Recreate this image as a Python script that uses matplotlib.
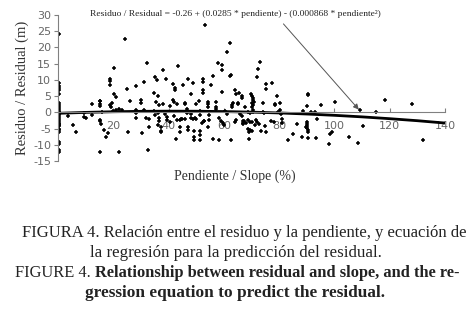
import matplotlib
matplotlib.use("Agg")
import matplotlib.pyplot as plt

plt.rcParams["axes.unicode_minus"] = False

# residual points at slope ~0
zero_y = [24.2, 8.9, 8.2, 7.6, 6.8, 5.8, 2.9, 2.2, 1.6, 1.0, 0.5, 0.0, -0.4, -0.9,
          -1.4, -2.0, -2.7, -3.2, -3.5, -3.9, -4.3, -5.0, -5.5, -6.1, -9.2, -9.7,
          -11.5, -12.2]
zero_x = [0.2, 0.3, 0.2, 0.3, 0.2, 0.2, 0.3, 0.2, 0.3, 0.2, 0.3, 0.2, 0.3, 0.2,
          0.3, 0.2, 0.3, 0.2, 0.3, 0.2, 0.3, 0.2, 0.3, 0.2, 0.3, 0.2, 0.3, 0.2]

slope = [3.5, 5.3, 6.4, 9.4, 10.1, 9.3, 12.2, 12.3, 15.1, 15.1, 15.1, 15.2, 15.1, 15.1,
         15.6, 15.8, 15.3, 16.5, 17.4, 18.2, 18.8, 18.8, 18.8, 18.8, 19.5, 19.2, 20, 21,
         22, 23, 20.1, 20.4, 21, 22.2, 24.4, 24.9, 25.3, 26.2, 28.2, 28.2, 28.2, 28.2,
         30.1, 30.1, 30.4, 31.1, 31, 32, 33, 32.1, 32.4, 33,
         35.1, 35.7, 38.1, 39.1, 34.9, 36.1, 35.4, 36.6, 34.8, 36, 35, 36.4, 36.4, 36,
         37.3, 37.3, 37.3, 38.7, 39.5, 39.5, 40.4, 38, 40.7, 41.5, 42.3, 42.3, 41.7, 42,
         43, 42, 43, 44, 44.5, 45, 46, 43.3, 42.6, 44, 44, 45.3, 46, 46, 46.5, 46.5,
         47.2, 47.2, 47.2, 48.1, 49, 48, 48, 48.8, 49.5, 50, 49.3, 49.3, 49.3, 50, 51,
         51.5, 51.5, 52.3, 52.3, 52.3, 52.3, 52.2, 52.8, 53, 51.4, 51.4, 51.4, 53.2,
         54.4, 54.4, 54.4, 54.8, 54.6, 54.2, 55.3, 56.2, 56.2, 57.2, 57.2, 57.2, 58,
         59.2, 59.2, 58.4, 59, 59.6, 60.2, 58.3, 59.5, 60.5, 61, 61.3, 62.2, 62.6, 62.3,
         63, 63, 63.3, 62.6, 64, 64.3, 64, 64.4, 65.6, 65.3, 65.3, 66, 66.4, 67, 67,
         66.5, 66.5,
         67.5, 68.8, 69.5, 70.5, 70, 70.2, 70.5, 70.7, 70.8, 70.2, 70.5, 70.2, 70.7,
         67.2, 67, 68, 68.9, 69.5, 70.2, 71.3, 71.6, 68.6, 69.5, 69, 70.3, 69.2, 72.1,
         72.5, 73.1, 73.3, 74.3, 74, 74.6, 75, 75.4, 72.6, 72, 75.3, 75.3, 77.3, 77.2,
         78, 78.5, 78.5, 79.3, 79.5, 80.3, 80.8, 80.3, 80.9, 80.9, 83.3, 85.1, 86.3,
         88.2, 88.8, 90, 90, 90.2, 90, 90.3, 90.3, 89.8, 90.6, 90.3, 90.6, 90.2, 91.5,
         93, 93.6, 93.3, 95, 98.4, 99.3, 98.2, 100.2, 109.3, 110.5, 105.3, 108.4,
         114.9, 118.3, 128.2, 132.2]
residual = [-1.1, -4.0, -6.2, -1.4, -1.6, -0.2, 2.7, -0.9, 3.5, 2.7, 1.9, 3.4, -2.3, -2.8,
            -3.5, 0.0, -12.2, -5.4, -7.6, -6.4, 10.4, 9.7, 8.3, 2.2, 2.8, 1.6, 0.4, 0.8,
            0.9, 0.8, 13.8, 5.5, 4.7, -12.2, 22.7, 7.3, -6.1, 3.5, 8.1, 0.6, -0.2, -1.9,
            3.9, 2.9, -6.4, 9.4, 0.6, -1.9, -2.1, 15.2, -11.7, -4.4,
            10.9, 9.9, 13.0, 10.4, 6.0, 4.9, 3.3, 2.3, 0.4, -0.2, -0.9, -1.8, -2.8, -3.8,
            -4.5, -5.6, -6.1, -0.6, -1.5, -2.5, -2.9, 2.5, 2.0, 3.8, 7.6, 6.8, 8.6, 3.3,
            2.5, -1.2, -2.4, -2.3, -2.2, -2.1, -2.0, 14.2, -8.1, -4.6, -6.1, 8.3, 3.0, 2.5,
            1.0, -0.2, 10.4, -4.4, -5.4, 5.6, 8.9, -0.4, -1.6, -2.2, -1.6, -2.0, -5.6,
            -7.6, -8.6, 2.5, 3.5, 0.4, -0.9, 10.2, 9.4, 6.8, 6.0, -3.4, -2.8, -2.6, -5.6,
            -7.1, -8.6, 26.8, 3.2, 2.7, 1.6, -0.9, -2.3, -4.4, 8.3, -8.1, 11.1, 3.3, 1.6,
            1.0, 15.2, 14.5, 13.0, -1.8, -2.6, -3.3, -3.9, -8.6, 6.3, 0.4, -0.6, 18.6,
            21.4, 11.6, 11.1, 1.6, 2.4, 2.9, -8.6, -2.9, -2.4, 6.8, 5.6, 6.0, 3.0, 2.5,
            -0.6, -1.1, -2.7, -3.5, 5.0, 4.3,
            1.6, 0.2, -0.2, 0.1, 5.8, 5.0, 4.3, 3.9, 3.2, 2.9, 2.2, 1.6, 0.6,
            -2.6, -3.4, -3.2, -2.5, -3.1, -2.9, -4.0, -2.5, -5.0, -5.5, -6.1, -5.8, -8.1,
            10.9, 13.5, 15.5, -5.8, 2.9, 0.2, -0.3, -4.2, -6.1, -3.5, -3.0, 8.6, 7.3, 9.0,
            -2.7, -3.0, 2.7, 2.2, 4.9, 0.1, 0.7, -0.6, 2.9, -2.2, -3.2, -8.6, -6.8, -3.7,
            -7.6, 0.3, -3.0, -3.6, -4.2, -4.8, -5.4, -6.1, -4.5, -7.8, 5.5, 5.2, 1.9, 0.0,
            0.0, -2.0, -7.8, 2.2, -6.6, -6.1, -9.7, 3.2, 0.6, -4.3, -7.6, -9.5,
            0.1, 3.7, 2.7, -8.4]

# fitted trend
trend_x = [0, 10, 20, 30, 40, 50, 60, 70, 80, 90, 100, 110, 120, 130, 140]
trend_y = [-0.30, -0.02, 0.18, 0.31, 0.36, 0.34, 0.24, 0.06, -0.19, -0.52, -0.92,
           -1.40, -1.96, -2.58, -3.30]

x_ticks = [20, 40, 60, 80, 100, 120, 140]
y_ticks = [-15, -10, -5, 0, 5, 10, 15, 20, 25, 30]

serif = "Liberation Serif"

fig = plt.figure(figsize=(4.69, 3.19), dpi=100)
ax = fig.add_axes([0.1237, 0.4953, 0.825, 0.4577])

ax.plot(zero_x + slope, zero_y + residual, linestyle="none", marker="+",
        markersize=3, markeredgewidth=1.1, color="black")
ax.plot(trend_x, trend_y, color="black", linewidth=2)

ax.set_xlim(0, 140)
ax.set_ylim(-15, 30)
ax.spines["top"].set_visible(False)
ax.spines["right"].set_visible(False)
ax.spines["bottom"].set_position(("data", 0))
for s in ("left", "bottom"):
    ax.spines[s].set_color("#808080")
    ax.spines[s].set_linewidth(0.8)

ax.set_xticks(x_ticks)
ax.set_yticks(y_ticks)
ax.tick_params(axis="x", direction="in", length=3, color="#808080", pad=6,
               labelsize=8, labelcolor="#666666")
ax.tick_params(axis="y", direction="out", length=3, color="#808080", pad=2,
               labelsize=8, labelcolor="#666666")

# arrow from the equation to the curve
ax.annotate("", xy=(109.5, 0.2), xytext=(80.9, 27.9),
            arrowprops=dict(arrowstyle="-|>", color="#555555", lw=0.7,
                            mutation_scale=8))
ax.text(64.2, 30.2, "Residuo / Residual = -0.26 + (0.0285 * pendiente) - (0.000868 * pendiente²)",
        family=serif, fontsize=6.8, ha="center", va="center", color="#222222")

fig.text(22 / 469, 1 - 88 / 319, "Residuo / Residual (m)", family=serif, fontsize=10.5,
         rotation=90, ha="center", va="center", color="#333333")
fig.text(235 / 469, 1 - 176 / 319, "Pendiente / Slope (%)", family=serif, fontsize=10,
         ha="center", va="center", color="#333333")

# caption
fig.text(244 / 469, 1 - 233 / 319,
         "FIGURA 4. Relación entre el residuo y la pendiente, y ecuación de",
         ha="center", va="center", family=serif, fontsize=12.0, color="#222222")
fig.text(236 / 469, 1 - 253 / 319, "la regresión para la predicción del residual.",
         ha="center", va="center", family=serif, fontsize=12.2, color="#222222")
t3 = fig.text(15 / 469, 1 - 273 / 319, "FIGURE 4. ", ha="left", va="center",
              family=serif, fontsize=11.8, color="#222222")
ax.annotate("Relationship between residual and slope, and the re-",
            xy=(1, 0.5), xycoords=t3, ha="left", va="center",
            family=serif, fontsize=11.8, fontweight="bold", color="#222222",
            annotation_clip=False)
fig.text(235 / 469, 1 - 293 / 319, "gression equation to predict the residual.",
         ha="center", va="center", family=serif, fontsize=12.4, fontweight="bold",
         color="#222222")

fig.savefig("out.png", dpi=100)
